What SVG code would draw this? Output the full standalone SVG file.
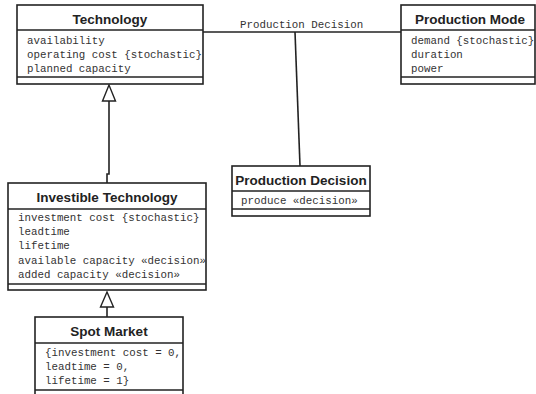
<svg xmlns="http://www.w3.org/2000/svg" width="536" height="394" viewBox="0 0 536 394">
<style>
.box{fill:#fff;stroke:#222;stroke-width:1.6}
.ln{stroke:#222;stroke-width:1.6;fill:none}
.tri{fill:#fff;stroke:#222;stroke-width:1.4}
.t{font-family:"Liberation Sans",Arial,sans-serif;font-weight:bold;font-size:13.5px;fill:#222;text-anchor:middle}
.a{font-family:"Liberation Mono","Courier New",monospace;font-size:10.8px;fill:#333}
</style>
<rect width="536" height="394" fill="#fff"/>
<g id="connectors">
<line class="ln" x1="203" y1="32" x2="401" y2="32"/>
<line class="ln" x1="295" y1="32" x2="300" y2="166"/>
<text class="a" x="240" y="28">Production Decision</text>
<polyline class="ln" points="109,101 109,174 107,174 107,183"/>
<polygon class="tri" points="109,85 102.5,101 115.5,101"/>
<polyline class="ln" points="107,307 107,317"/>
<polygon class="tri" points="107,292 100.5,307 113.5,307"/>
</g>
<g id="technology">
<rect class="box" x="17" y="5" width="186" height="79"/>
<line class="ln" x1="17" y1="30" x2="203" y2="30"/>
<line class="ln" x1="17" y1="77" x2="203" y2="77"/>
<text class="t" x="110" y="24">Technology</text>
<text class="a" x="27" y="44">availability</text>
<text class="a" x="27" y="58">operating cost {stochastic}</text>
<text class="a" x="27" y="72">planned capacity</text>
</g>
<g id="production-mode">
<rect class="box" x="401" y="5" width="134" height="79"/>
<line class="ln" x1="401" y1="30" x2="535" y2="30"/>
<line class="ln" x1="401" y1="77" x2="535" y2="77"/>
<text class="t" x="470" y="24">Production Mode</text>
<text class="a" x="411" y="44">demand {stochastic}</text>
<text class="a" x="411" y="58">duration</text>
<text class="a" x="411" y="72">power</text>
</g>
<g id="production-decision">
<rect class="box" x="232" y="166" width="138" height="50"/>
<line class="ln" x1="232" y1="191" x2="370" y2="191"/>
<line class="ln" x1="232" y1="209" x2="370" y2="209"/>
<text class="t" x="301" y="185">Production Decision</text>
<text class="a" x="241" y="204">produce «decision»</text>
</g>
<g id="investible-technology">
<rect class="box" x="8" y="183" width="198" height="107"/>
<line class="ln" x1="8" y1="209" x2="206" y2="209"/>
<line class="ln" x1="8" y1="284" x2="206" y2="284"/>
<text class="t" x="107" y="202">Investible Technology</text>
<text class="a" x="18" y="221">investment cost {stochastic}</text>
<text class="a" x="18" y="235">leadtime</text>
<text class="a" x="18" y="249">lifetime</text>
<text class="a" x="18" y="264">available capacity «decision»</text>
<text class="a" x="18" y="278">added capacity «decision»</text>
</g>
<g id="spot-market">
<rect class="box" x="35" y="317" width="148" height="82"/>
<line class="ln" x1="35" y1="343" x2="183" y2="343"/>
<line class="ln" x1="35" y1="390" x2="183" y2="390"/>
<text class="t" x="109" y="336">Spot Market</text>
<text class="a" x="45" y="356">{investment cost = 0,</text>
<text class="a" x="45" y="370">leadtime = 0,</text>
<text class="a" x="45" y="384">lifetime = 1}</text>
</g>
</svg>
